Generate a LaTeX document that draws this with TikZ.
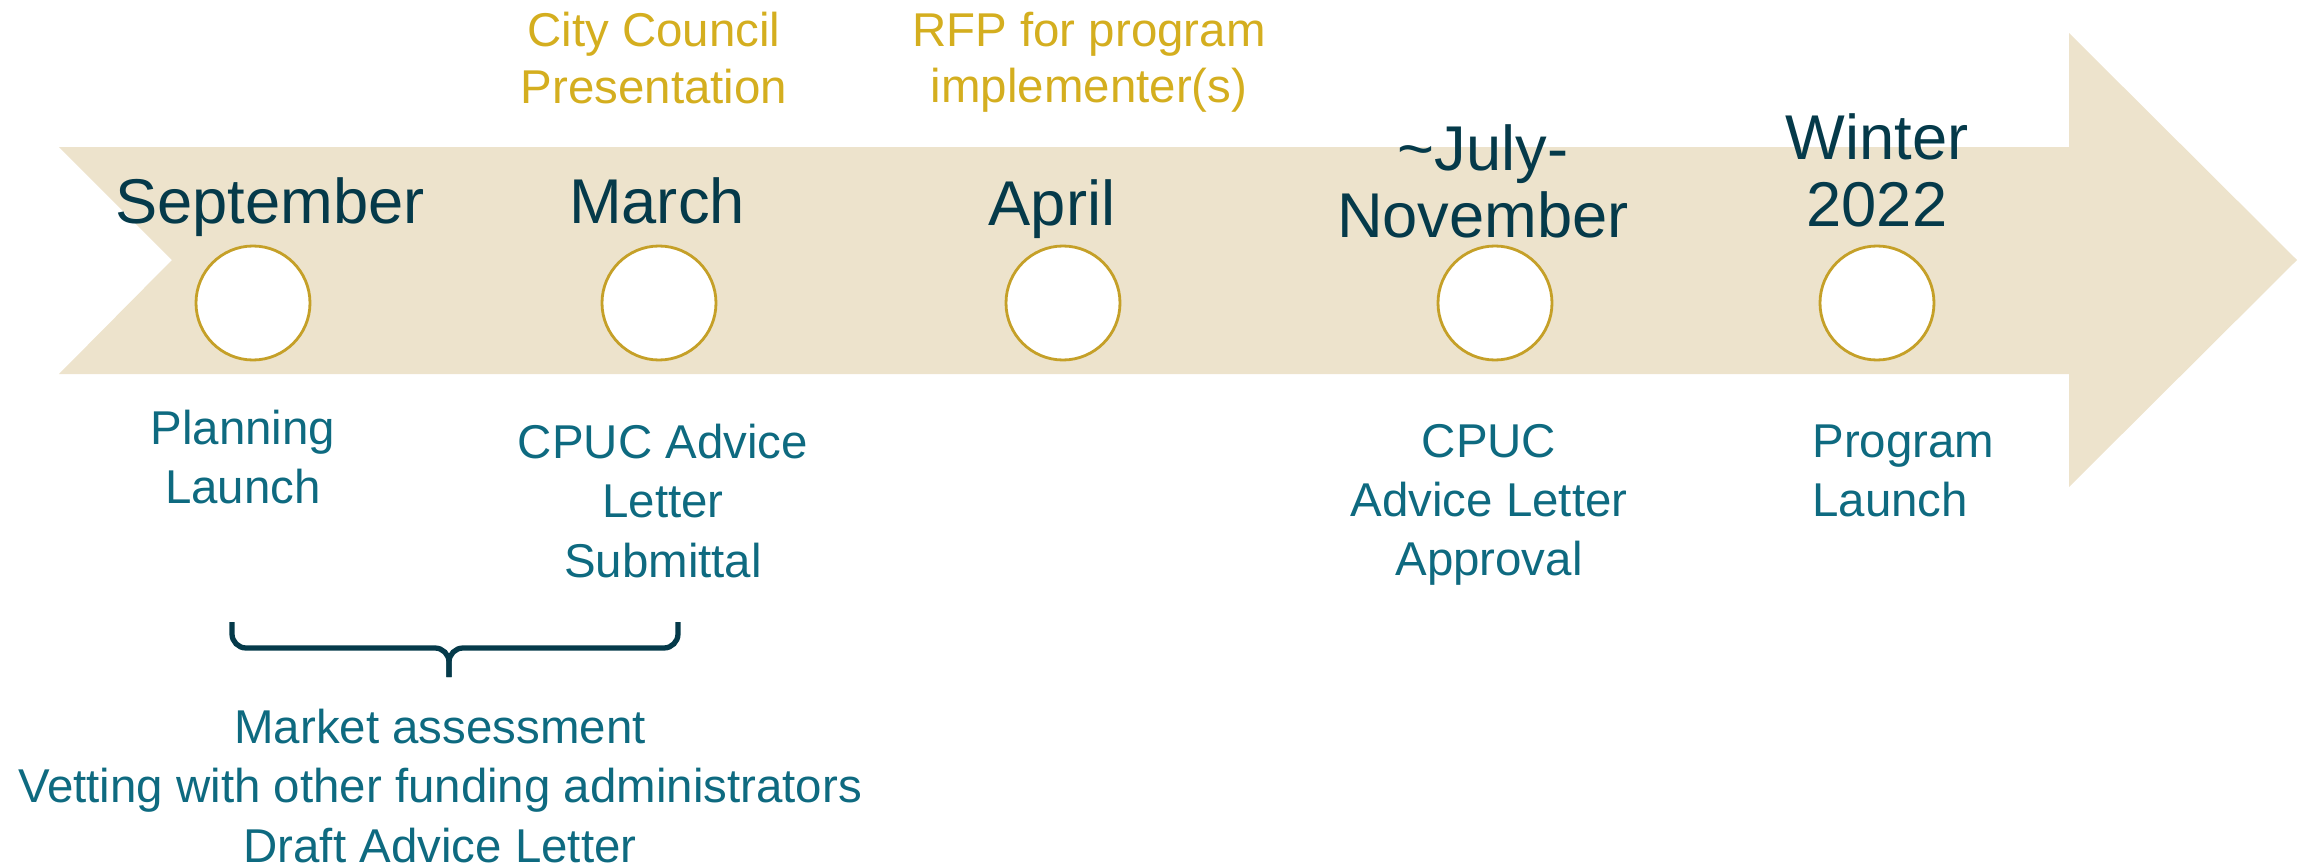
\documentclass[tikz,border=0pt]{standalone}
\usepackage{fontspec}
\setmainfont{Liberation Sans}
\definecolor{sand}{HTML}{EDE3CC}
\definecolor{ochre}{HTML}{C5A028}
\definecolor{navy}{HTML}{053A4A}
\definecolor{tealtext}{HTML}{0E6A80}
\definecolor{mustard}{HTML}{D4AE1F}

\begin{document}
\begin{tikzpicture}[
	dot/.style={circle, draw=ochre, fill=white, line width=0.8pt, minimum size=1.14cm, inner sep=0pt},
	month/.style={text=navy, font=\fontsize{18}{19}\selectfont, align=center},
	note/.style={text=tealtext, font=\fontsize{13.5}{16.8}\selectfont, align=center},
	gold/.style={text=mustard, font=\fontsize{13.5}{16}\selectfont, align=center}]
	\useasboundingbox (0,0) rectangle (23.05,-8.66);
	\fill[sand] (0.59,-1.47) -- (20.69,-1.47) -- (20.69,-0.33) -- (22.97,-2.60) -- (20.69,-4.87) -- (20.69,-3.74) -- (0.59,-3.74) -- (1.72,-2.60) -- cycle;

	\node at (2.53,-3.03) [dot] (sep) {};
	\node at (6.59,-3.03) [dot] (mar) {};
	\node at (10.63,-3.03) [dot] (apr) {};
	\node at (14.95,-3.03) [dot] (jul) {};
	\node at (18.77,-3.03) [dot] (win) {};

	\node at (2.70,-2.07) [month] (sep-m) {September};
	\node at (6.57,-2.01) [month] (mar-m) {March};
	\node at (10.52,-2.09) [month] (apr-m) {April};
	\node at (14.83,-1.81) [month] (jul-m) {\textasciitilde July-\\November};
	\node at (18.77,-1.70) [month] (win-m) {Winter\\2022};

	\node at (6.54,-0.58) [gold] (council) {City Council\\Presentation};
	\node at (10.89,-0.62) [gold] (rfp) {RFP for program\\implementer(s)};

	\node at (2.43,-4.57) [note] (plan) {Planning\\Launch};
	\node at (6.63,-5.01) [note] (submit) {CPUC Advice\\Letter\\Submittal};
	\node at (14.89,-5.05) [note] (approve) {CPUC\\Advice Letter\\Approval};
	\node at (18.00,-4.71) [note, align=left, anchor=west] (launch) {Program\\Launch};

	\coordinate (bl) at (2.32,-6.22);
	\coordinate (br) at (6.78,-6.22);
	\coordinate (bk) at (4.49,-6.48);
	\coordinate (bm) at (4.49,-6.77);
	\draw [navy, line width=1.5pt, rounded corners=4pt] (bl) -- (bl |- bk) -- (bk) -- (bm);
	\draw [navy, line width=1.5pt, rounded corners=4pt] (br) -- (br |- bk) -- (bk) -- (bm);

	\node at (4.40,-7.86) [note] (tasks) {Market assessment\\Vetting with other funding administrators\\Draft Advice Letter};
\end{tikzpicture}
\end{document}
